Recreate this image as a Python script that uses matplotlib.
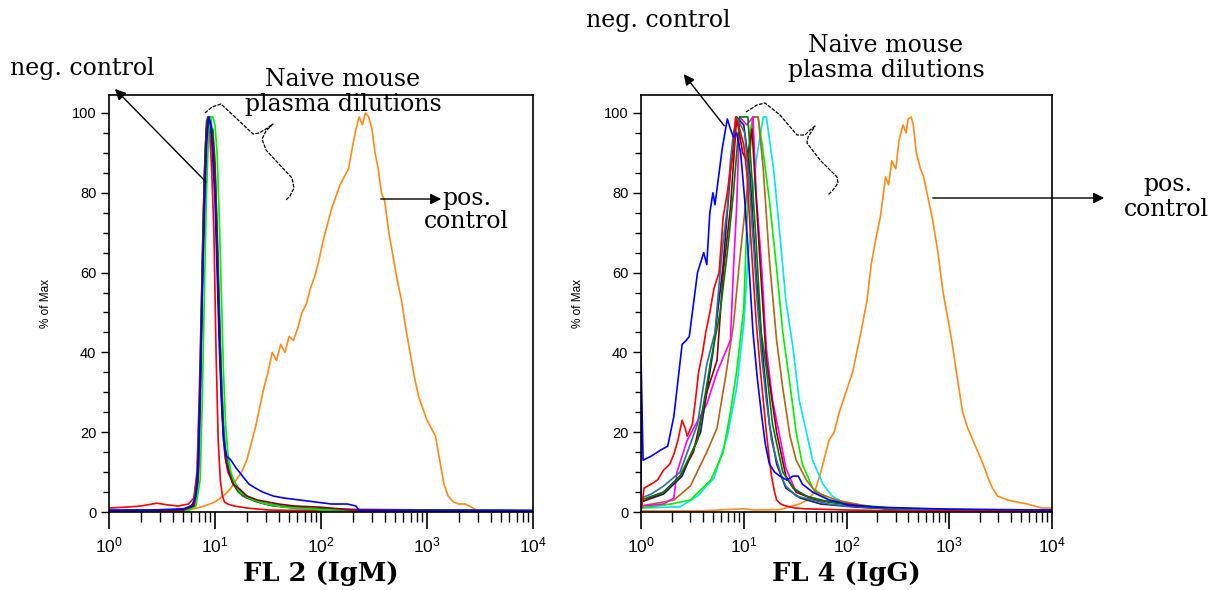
import numpy as np
import matplotlib.pyplot as plt
from matplotlib.ticker import FixedLocator, LogLocator, NullFormatter, MultipleLocator

# ---- data: x in log10 units (decades of fluorescence), y in % of max ----
# FL2 (IgM) panel
igm_blue_x = [0.0, 0.4, 0.7, 0.78, 0.82, 0.84, 0.86, 0.88, 0.9, 0.92, 0.94, 0.96, 0.98, 1.0, 1.02, 1.04, 1.06, 1.08,
              1.11, 1.15, 1.2, 1.26, 1.32, 1.38, 1.45, 1.55, 1.65, 1.8, 1.95, 2.1, 2.25, 2.33, 2.36, 3.0, 4.0]
igm_blue_y = [0.5, 0.5, 0.8, 1.5, 4, 12, 30, 55, 75, 92, 99, 97, 88, 78, 60, 42, 28, 18,
              14, 13, 11, 9, 7, 6, 5, 4, 3.5, 3, 2.5, 2, 2, 1.5, 0.4, 0.4, 0.4]
igm_red_x = [0.0, 0.15, 0.3, 0.45, 0.55, 0.65, 0.75, 0.8, 0.83, 0.85, 0.87, 0.89, 0.91, 0.93, 0.95, 0.97, 0.99,
             1.01, 1.03, 1.05, 1.07, 1.09, 1.12, 1.18, 1.3, 1.5, 2.0, 4.0]
igm_red_y = [1, 1.2, 1.5, 2.2, 1.8, 1.5, 2.0, 3.5, 10, 28, 50, 75, 92, 99, 95, 85, 70,
             40, 18, 8, 4, 2.5, 2, 1.5, 1, 0.5, 0.3, 0.3]
igm_dkgreen_x = [0.0, 0.7, 0.8, 0.84, 0.86, 0.88, 0.9, 0.92, 0.94, 0.96, 0.98, 1.0, 1.02, 1.04, 1.06, 1.08, 1.1,
                 1.13, 1.17, 1.22, 1.3, 1.4, 1.55, 1.8, 2.2, 4.0]
igm_dkgreen_y = [0.3, 0.5, 2, 10, 35, 62, 85, 98, 99, 95, 96, 88, 70, 50, 32, 20, 14,
                 10, 7, 5, 3.5, 2.5, 1.5, 1, 0.5, 0.3]
igm_maroon_x = [0.0, 0.7, 0.8, 0.84, 0.86, 0.88, 0.9, 0.92, 0.94, 0.96, 0.98, 1.0, 1.02, 1.04, 1.06, 1.08, 1.1,
                1.13, 1.17, 1.22, 1.3, 1.4, 1.5, 1.6, 1.75, 2.0, 2.3, 4.0]
igm_maroon_y = [0.3, 0.5, 1.5, 8, 30, 58, 82, 96, 99, 97, 93, 85, 68, 48, 30, 19, 13,
                10, 7, 6, 4, 3, 2.5, 2, 1.5, 1.2, 0.5, 0.3]
igm_teal_x = [0.0, 0.7, 0.8, 0.83, 0.86, 0.88, 0.9, 0.92, 0.94, 0.96, 0.98, 1.0, 1.02, 1.05, 1.08, 1.1,
              1.13, 1.17, 1.22, 1.3, 1.45, 1.7, 2.2, 4.0]
igm_teal_y = [0.3, 0.5, 2, 8, 32, 60, 84, 97, 99, 98, 92, 84, 66, 40, 22, 15,
              11, 8, 6, 4, 2.2, 1.2, 0.5, 0.3]
igm_cyan_x = [0.0, 0.72, 0.8, 0.84, 0.86, 0.88, 0.9, 0.92, 0.94, 0.96, 0.98, 1.0, 1.02, 1.04, 1.06, 1.08, 1.1,
              1.13, 1.17, 1.22, 1.3, 1.42, 1.6, 2.0, 4.0]
igm_cyan_y = [0.2, 0.5, 1.5, 6, 25, 55, 80, 95, 99, 99, 94, 86, 72, 55, 36, 22, 15,
              11, 8, 6, 4, 2.5, 1.5, 0.6, 0.3]
igm_magenta_x = [0.0, 0.75, 0.82, 0.85, 0.87, 0.89, 0.91, 0.93, 0.95, 0.97, 0.99, 1.01, 1.03, 1.05, 1.07, 1.09,
                 1.12, 1.16, 1.2, 1.26, 1.35, 1.5, 1.8, 4.0]
igm_magenta_y = [0.2, 0.4, 2, 12, 38, 66, 88, 98, 99, 96, 90, 76, 58, 38, 24, 15,
                 10, 8, 6, 4, 3, 1.8, 0.8, 0.3]
igm_green_x = [0.0, 0.75, 0.82, 0.86, 0.88, 0.9, 0.92, 0.94, 0.96, 0.98, 1.0, 1.02, 1.04, 1.06, 1.08, 1.1,
               1.12, 1.15, 1.19, 1.24, 1.32, 1.45, 1.65, 2.0, 4.0]
igm_green_y = [0.2, 0.4, 1.5, 8, 28, 55, 80, 95, 99, 99, 97, 90, 74, 55, 35, 22,
               15, 10, 7, 5, 3.5, 2.2, 1.2, 0.6, 0.3]
igm_pos_x = [0.0, 0.7, 0.8, 0.9, 1.0, 1.05, 1.1, 1.15, 1.2, 1.25, 1.3, 1.34, 1.38, 1.42, 1.46, 1.5, 1.54, 1.58,
             1.62, 1.66, 1.7, 1.74, 1.78, 1.82, 1.86, 1.9, 1.94, 1.98, 2.02, 2.06, 2.1, 2.14, 2.18, 2.22, 2.26,
             2.3, 2.33, 2.36, 2.39, 2.42, 2.45, 2.48, 2.51, 2.54, 2.57, 2.6, 2.64, 2.68, 2.72, 2.76, 2.8, 2.84,
             2.88, 2.92, 2.96, 3.0, 3.04, 3.08, 3.12, 3.16, 3.2, 3.25, 3.3, 3.36, 3.42, 3.48, 3.52, 4.0]
igm_pos_y = [0, 0.2, 0.8, 1.5, 2.5, 3.5, 4.5, 6, 8, 10, 13, 17, 21, 26, 31, 35, 40, 38,
             42, 40, 44, 43, 46, 50, 52, 56, 59, 63, 68, 72, 76, 79, 82, 84, 86,
             92, 96, 99, 97, 100, 99, 96, 90, 86, 80, 78, 70, 64, 58, 53, 46, 40,
             34, 29, 26, 23, 21, 19, 13, 7, 4, 2.5, 2, 2, 1.2, 0.3, 0.2, 0.2]

# FL4 (IgG) panel
igg_blue_x = [0.0, 0.0, 0.02, 0.1, 0.19, 0.26, 0.32, 0.36, 0.40, 0.44, 0.47, 0.51, 0.55, 0.61, 0.64, 0.67, 0.70,
              0.72, 0.75, 0.79, 0.84, 0.87, 0.9, 0.93, 0.97, 1.01, 1.05, 1.09, 1.13, 1.17, 1.21, 1.25, 1.3, 1.35,
              1.42, 1.48, 1.53, 1.57, 1.62, 1.67, 1.75, 1.83, 1.92, 2.02, 2.3, 2.6, 3.0, 4.0]
igg_blue_y = [0, 39, 13, 14, 15.5, 16.5, 24, 33, 42, 43, 44, 52, 60, 65, 62, 75, 80,
              77, 83, 91, 98.5, 96, 94, 95, 90, 78, 62, 45, 34, 25, 17, 12, 10, 9,
              8, 9, 9, 7, 6, 5, 4, 3, 2.5, 1.7, 1.2, 1.0, 0.7, 0.5]
igg_red_x = [0.0, 0.03, 0.1, 0.16, 0.22, 0.28, 0.32, 0.36, 0.40, 0.43, 0.45, 0.5, 0.53, 0.56, 0.6, 0.63, 0.67,
             0.71, 0.76, 0.8, 0.84, 0.87, 0.9, 0.92, 0.96, 1.0, 1.03, 1.06, 1.09, 1.12, 1.16, 1.19, 1.22, 1.25,
             1.27, 1.3, 1.32, 1.36, 1.41, 1.5, 1.6, 2.0, 2.5, 4.0]
igg_red_y = [0, 6, 7, 8, 10.5, 12, 14.5, 18, 23, 21, 19, 22, 28, 35, 40, 45, 50,
             56, 60, 74, 80, 86, 90, 99, 96, 92, 85, 72, 60, 48, 36, 28, 20, 13,
             9, 5, 3, 2, 1.5, 1, 0.8, 0.5, 0.3, 0.3]
igg_teal_x = [0.0, 0.1, 0.22, 0.38, 0.55, 0.64, 0.72, 0.77, 0.8, 0.84, 0.87, 0.9, 0.93, 0.97, 1.01, 1.06, 1.1,
              1.13, 1.17, 1.22, 1.27, 1.32, 1.38, 1.41, 1.51, 1.67, 1.83, 2.0, 2.5, 4.0]
igg_teal_y = [3.5, 4.5, 6.5, 10, 22, 37, 45, 60, 68, 76, 88, 95, 99, 97, 95, 80, 65,
              53, 40, 28, 18, 13, 8, 6.5, 4, 3, 2, 1.5, 0.8, 0.4]
igg_dkgreen_x = [0.0, 0.22, 0.38, 0.55, 0.68, 0.77, 0.84, 0.9, 0.96, 1.04, 1.12, 1.17, 1.22, 1.28, 1.38, 1.48,
                 1.61, 1.83, 2.15, 2.6, 4.0]
igg_dkgreen_y = [3, 5, 9, 18, 38, 50, 65, 80, 99, 99, 68, 45, 36, 22, 10, 6,
                 4, 2.5, 1.2, 0.6, 0.3]
igg_maroon_x = [0.0, 0.22, 0.38, 0.51, 0.64, 0.74, 0.8, 0.87, 0.92, 0.93, 0.99, 1.03, 1.08, 1.16, 1.22, 1.32,
                1.41, 1.51, 1.7, 2.15, 2.6, 4.0]
igg_maroon_y = [2.5, 5, 9, 15, 30, 38, 60, 76, 95, 99, 90, 88, 96, 62, 38, 20,
                9, 5, 3, 1.5, 0.6, 0.3]
igg_navy_x = [0.0, 0.22, 0.4, 0.58, 0.7, 0.8, 0.87, 0.93, 1.0, 1.06, 1.12, 1.19, 1.25, 1.32, 1.41, 1.55,
              1.75, 2.1, 2.6, 4.0]
igg_navy_y = [2.5, 4.5, 9, 20, 40, 62, 85, 99, 97, 85, 60, 38, 22, 12, 6, 3.5,
              2, 1.2, 0.6, 0.3]
igg_magenta_x = [0.0, 0.22, 0.32, 0.35, 0.45, 0.64, 0.74, 0.87, 0.9, 0.93, 0.96, 1.03, 1.09, 1.12, 1.17, 1.22,
                 1.28, 1.35, 1.41, 1.51, 1.7, 1.99, 2.4, 4.0]
igg_magenta_y = [1.5, 2, 3.5, 10, 18, 27, 35, 43, 61, 76, 99, 97, 99, 80, 63, 41,
                 28, 19, 11, 5, 3, 2, 0.8, 0.3]
igg_brown_x = [0.0, 0.32, 0.48, 0.64, 0.74, 0.83, 0.9, 0.96, 1.03, 1.09, 1.14, 1.19, 1.25, 1.32, 1.38, 1.45,
               1.51, 1.61, 1.7, 1.9, 2.15, 2.4, 4.0]
igg_brown_y = [1.5, 3, 6.5, 15, 21, 35, 47, 63, 80, 99, 99, 86, 63, 43, 31, 19,
               13, 8, 5, 3, 1.7, 0.6, 0.3]
igg_green_x = [0.0, 0.29, 0.48, 0.68, 0.8, 0.87, 0.93, 1.0, 1.03, 1.06, 1.09, 1.14, 1.19, 1.25, 1.32, 1.38,
               1.45, 1.51, 1.57, 1.67, 1.83, 2.15, 2.6, 4.0]
igg_green_y = [1, 2, 3, 8, 15, 25, 35, 51, 72, 95, 99, 99, 90, 78, 61, 45,
               32, 20, 12, 6, 3, 1.7, 0.6, 0.3]
igg_cyan_x = [0.0, 0.38, 0.55, 0.71, 0.84, 0.93, 1.0, 1.04, 1.08, 1.12, 1.19, 1.22, 1.29, 1.35, 1.41, 1.48,
              1.54, 1.61, 1.67, 1.77, 1.86, 1.99, 2.22, 2.6, 4.0]
igg_cyan_y = [1, 1.3, 4, 8.5, 19, 31, 47, 63, 76, 88, 99, 99, 86, 70, 53, 41,
              28, 20, 13, 7, 4, 2, 1.3, 0.6, 0.3]
igg_pos_x = [0.0, 0.6, 1.0, 1.1, 1.35, 1.54, 1.62, 1.69, 1.75, 1.83, 1.88, 1.93, 2.02, 2.06, 2.1, 2.14, 2.2,
             2.24, 2.29, 2.33, 2.38, 2.41, 2.44, 2.48, 2.51, 2.55, 2.58, 2.6, 2.63, 2.65, 2.68, 2.72, 2.75,
             2.8, 2.84, 2.89, 2.94, 2.99, 3.03, 3.07, 3.13, 3.18, 3.23, 3.28, 3.33, 3.37, 3.42, 3.47, 3.57,
             3.66, 3.76, 3.9, 4.0]
igg_pos_y = [0.3, 0.3, 0.8, 0.5, 0.6, 2, 3, 5, 10, 18, 20, 25, 32, 35, 40, 45, 53,
             62, 69, 74, 84, 82, 88, 86, 93, 97, 95, 98.5, 99, 97, 90, 86, 84,
             78, 73, 65, 55, 48, 42, 35, 25, 21, 18, 15, 12, 9, 6, 4, 3,
             2.5, 2, 1, 1]

left_series = [
    (igm_pos_x, igm_pos_y, "#ff8c1a"),
    (igm_red_x, igm_red_y, "#ff0000"),
    (igm_cyan_x, igm_cyan_y, "#00e5ee"),
    (igm_magenta_x, igm_magenta_y, "#ff00ff"),
    (igm_teal_x, igm_teal_y, "#2f6f9f"),
    (igm_dkgreen_x, igm_dkgreen_y, "#007a00"),
    (igm_green_x, igm_green_y, "#00ee00"),
    (igm_maroon_x, igm_maroon_y, "#8b0000"),
    (igm_blue_x, igm_blue_y, "#0000ff"),
]
right_series = [
    (igg_pos_x, igg_pos_y, "#ff8c1a"),
    (igg_cyan_x, igg_cyan_y, "#00e5ee"),
    (igg_green_x, igg_green_y, "#00ee00"),
    (igg_brown_x, igg_brown_y, "#b8621b"),
    (igg_magenta_x, igg_magenta_y, "#ff00ff"),
    (igg_navy_x, igg_navy_y, "#1a1a6e"),
    (igg_maroon_x, igg_maroon_y, "#8b0000"),
    (igg_dkgreen_x, igg_dkgreen_y, "#007a00"),
    (igg_teal_x, igg_teal_y, "#2f6f9f"),
    (igg_red_x, igg_red_y, "#ff0000"),
    (igg_blue_x, igg_blue_y, "#0000ff"),
]

W, H = 1221, 590
SANS = "Liberation Sans"
SERIF = "DejaVu Serif"
plt.rcParams["mathtext.default"] = "regular"

fig = plt.figure(figsize=(W / 100, H / 100), dpi=100)


def make_panel(rect, series, xlabel):
    ax = fig.add_axes(rect)
    for xs, ys, col in series:
        ax.plot(10 ** np.array(xs), ys, color=col, lw=1.2)
    ax.set_xscale("log")
    ax.set_xlim(1, 1e4)
    ax.set_ylim(0, 104.5)
    ax.xaxis.set_major_locator(FixedLocator([1, 10, 100, 1000, 10000]))
    ax.set_xticklabels([r"$10^{0}$", r"$10^{1}$", r"$10^{2}$", r"$10^{3}$", r"$10^{4}$"],
                       fontfamily=SANS, fontsize=12.5)
    ax.xaxis.set_minor_locator(LogLocator(base=10, subs=np.arange(2, 10)))
    ax.xaxis.set_minor_formatter(NullFormatter())
    ax.yaxis.set_major_locator(MultipleLocator(20))
    ax.yaxis.set_minor_locator(MultipleLocator(5))
    for lab in ax.get_yticklabels():
        lab.set_fontfamily(SANS)
        lab.set_fontsize(10.5)
    ax.tick_params(axis="x", which="major", direction="out", length=12, width=1.2, pad=5)
    ax.tick_params(axis="x", which="minor", direction="out", length=7, width=1)
    ax.tick_params(axis="y", which="major", direction="out", length=6, width=1, pad=3)
    ax.tick_params(axis="y", which="minor", direction="out", length=4, width=1)
    for sp in ax.spines.values():
        sp.set_linewidth(1.2)
    ax.set_ylabel("% of Max", fontfamily=SANS, fontsize=8.5, labelpad=14)
    ax.set_xlabel(xlabel, fontfamily=SERIF, fontweight="bold", fontsize=18.5, labelpad=4)
    return ax


ax1 = make_panel([109 / W, 1 - 512 / H, (533 - 109) / W, (512 - 95) / H], left_series, "FL 2 (IgM)")
ax2 = make_panel([641 / W, 1 - 512 / H, (1052 - 641) / W, (512 - 95) / H], right_series, "FL 4 (IgG)")

# annotation layer in pixel coordinates
ov = fig.add_axes([0, 0, 1, 1], zorder=10)
ov.set_xlim(0, W)
ov.set_ylim(H, 0)
ov.axis("off")
ov.patch.set_alpha(0)

txt = dict(fontfamily=SERIF, fontsize=17, color="black")
arrow = dict(arrowstyle="-|>", color="black", lw=1.0, mutation_scale=16)

# left panel notes
ov.text(10, 68, "neg. control", ha="left", va="center", **txt)
ov.annotate("", xy=(113, 87), xytext=(208, 184), arrowprops=arrow)
ov.text(343, 79, "Naive mouse", ha="center", va="center", **txt)
ov.text(343, 104, "plasma dilutions", ha="center", va="center", **txt)
brace_l_x = [205, 212, 221, 236, 253, 259, 266, 273, 266, 262, 266, 278, 292, 294, 290, 286]
brace_l_y = [113, 107, 104, 118, 134, 133, 129, 124, 131, 139, 150, 163, 178, 188, 196, 200]
ov.plot(brace_l_x, brace_l_y, color="black", lw=0.9, ls=(0, (3, 1)))
ov.annotate("", xy=(444, 199), xytext=(378, 199), arrowprops=arrow)
ov.text(442, 199, "pos.", ha="left", va="center", **txt)
ov.text(424, 222, "control", ha="left", va="center", **txt)

# right panel notes
ov.text(586, 21, "neg. control", ha="left", va="center", **txt)
ov.annotate("", xy=(682, 72), xytext=(726, 128), arrowprops=arrow)
ov.text(886, 45, "Naive mouse", ha="center", va="center", **txt)
ov.text(886, 70, "plasma dilutions", ha="center", va="center", **txt)
brace_r_x = [746, 757, 765, 780, 797, 805, 810, 815, 808, 807, 820, 837, 838, 833, 828]
brace_r_y = [112, 105, 103, 115, 135, 135, 130, 126, 137, 143, 160, 177, 183, 190, 195]
ov.plot(brace_r_x, brace_r_y, color="black", lw=0.9, ls=(0, (3, 1)))
ov.annotate("", xy=(1107, 198), xytext=(930, 198), arrowprops=arrow)
ov.text(1168, 185, "pos.", ha="center", va="center", **txt)
ov.text(1124, 209, "control", ha="left", va="center", **txt)

fig.savefig("out.png", dpi=100)
